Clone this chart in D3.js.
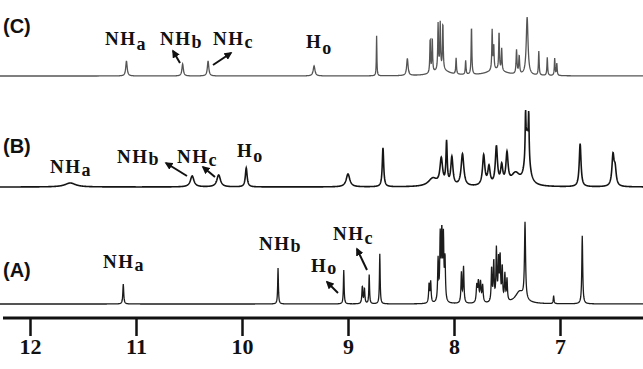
<!DOCTYPE html>
<html>
<head>
<meta charset="utf-8">
<script src="https://cdn.jsdelivr.net/npm/d3@7"></script>
<style>
body { margin: 0; background: #fff; }
</style>
</head>
<body>
<svg id="chart" width="643" height="369"></svg>
<script>
// peak lists: [ppm, height, half width (ppm)]
var peaksC = [
    [11.09, 15, 0.008], [10.56, 12, 0.008], [10.32, 15, 0.008], [9.32, 10, 0.01],
    [8.73, 40, 0.003], [8.44, 17, 0.008],
    [8.225, 34, 0.004], [8.205, 34, 0.004],
    [8.15, 46, 0.004], [8.13, 46, 0.004], [8.105, 46, 0.004], [8.12, 6, 0.08],
    [7.98, 16, 0.004], [7.89, 14, 0.004], [7.835, 48, 0.004],
    [7.64, 40, 0.004], [7.625, 24, 0.004], [7.575, 38, 0.004], [7.55, 22, 0.004], [7.6, 6, 0.1],
    [7.41, 24, 0.005], [7.385, 18, 0.005],
    [7.31, 58, 0.01],
    [7.20, 24, 0.004], [7.12, 18, 0.004], [7.05, 17, 0.004], [7.03, 12, 0.004]
];

var peaksB = [
    [11.62, 4, 0.06], [10.47, 11, 0.02], [10.22, 12, 0.02], [9.96, 19, 0.01],
    [9.00, 13, 0.02], [8.67, 39, 0.008],
    [8.2, 8, 0.05], [8.12, 26, 0.015], [8.07, 42, 0.007], [8.02, 28, 0.012],
    [7.92, 32, 0.015],
    [7.72, 30, 0.013], [7.67, 18, 0.013],
    [7.60, 38, 0.012], [7.55, 18, 0.012], [7.50, 30, 0.012],
    [7.42, 12, 0.05],
    [7.31, 50, 0.022], [7.325, 40, 0.004], [7.295, 40, 0.004],
    [6.81, 43, 0.01],
    [6.50, 30, 0.012], [6.48, 16, 0.012]
];

var peaksA = [
    [11.12, 20, 0.005], [9.66, 36, 0.004], [9.04, 34, 0.004],
    [8.865, 17, 0.005], [8.845, 15, 0.005], [8.80, 29, 0.004], [8.70, 50, 0.004],
    [8.235, 19, 0.005], [8.22, 21, 0.005],
    [8.15, 42, 0.005], [8.13, 64, 0.005], [8.115, 66, 0.005], [8.10, 62, 0.005], [8.085, 42, 0.005],
    [7.93, 30, 0.005], [7.91, 36, 0.005],
    [7.785, 17, 0.006], [7.77, 20, 0.006], [7.75, 20, 0.006], [7.73, 17, 0.006],
    [7.645, 34, 0.005], [7.625, 40, 0.005], [7.60, 52, 0.005], [7.58, 40, 0.005],
    [7.565, 44, 0.005], [7.545, 34, 0.005], [7.52, 27, 0.005], [7.50, 22, 0.005],
    [7.38, 12, 0.05], [7.33, 76, 0.006],
    [7.06, 8, 0.004], [6.79, 68, 0.005]
];

var tickValues = [12, 11, 10, 9, 8, 7];

var spectra = [
    { name: "(C)", peaks: peaksC, base: 76, nameY: 33, color: "#555", width: 1.3 },
    { name: "(B)", peaks: peaksB, base: 187, nameY: 153, color: "#151515", width: 1.6 },
    { name: "(A)", peaks: peaksA, base: 304, nameY: 277, color: "#1c1c1c", width: 1.3 }
];

// peak annotations (text start, baseline) and arrows
var notes = [
    { t: "NH", s: "a", x: 105, y: 45, dy: 5 },
    { t: "NH", s: "b", x: 160, y: 45, dy: 3 },
    { t: "NH", s: "c", x: 213, y: 45, dy: 3 },
    { t: "H", s: "o", x: 306, y: 48, dy: 6 },
    { t: "NH", s: "a", x: 50, y: 173, dy: 3 },
    { t: "NH", s: "b", x: 117, y: 163, dy: 2 },
    { t: "NH", s: "c", x: 177, y: 163, dy: 3 },
    { t: "H", s: "o", x: 237, y: 157, dy: 5 },
    { t: "NH", s: "a", x: 103, y: 268, dy: 3 },
    { t: "NH", s: "b", x: 259, y: 250, dy: 2 },
    { t: "H", s: "o", x: 311, y: 272, dy: 2 },
    { t: "NH", s: "c", x: 333, y: 240, dy: 4 }
];
var arrows = [
    [180, 63, 173, 51], [213, 65, 231, 53],
    [187, 176, 166, 163], [215, 177, 203, 167],
    [338, 293, 327, 282], [367, 270, 357, 249]
];

var svg = d3.select("#chart");
var x = d3.scaleLinear().domain([12, 7]).range([30, 560]);

var defs = svg.append("defs");
defs.append("marker")
    .attr("id", "head")
    .attr("viewBox", "0 0 10 10")
    .attr("refX", 8).attr("refY", 5)
    .attr("markerWidth", 4).attr("markerHeight", 4)
    .attr("orient", "auto")
    .append("path")
    .attr("d", "M0,0 L10,5 L0,10 z")
    .attr("fill", "#111");

var ppms = d3.range(12.3, 6.15, -0.002);

function intensity(peaks, p) {
    var s = 0;
    for (var i = 0; i < peaks.length; i++) {
        var u = (p - peaks[i][0]) / peaks[i][2];
        s += peaks[i][1] / (1 + u * u);
    }
    return s;
}

spectra.forEach(function(sp) {
    var y = d3.scaleLinear().domain([0, 100]).range([sp.base, sp.base - 100]);
    var line = d3.line()
        .x(function(p) { return x(p); })
        .y(function(p) { return y(intensity(sp.peaks, p)); });

    svg.append("path")
        .datum(ppms)
        .attr("d", line)
        .attr("fill", "none")
        .attr("stroke", sp.color)
        .attr("stroke-width", sp.width);

    svg.append("text")
        .attr("x", 3)
        .attr("y", sp.nameY)
        .style("font-family", "'Liberation Sans', Arial, sans-serif")
        .attr("font-weight", "bold")
        .attr("font-size", 20)
        .attr("fill", "#111")
        .text(sp.name);
});

notes.forEach(function(n) {
    var t = svg.append("text")
        .attr("x", n.x)
        .attr("y", n.y)
        .style("font-family", "'Liberation Serif', 'Times New Roman', serif")
        .attr("font-weight", "bold")
        .attr("fill", "#111");
    t.append("tspan").attr("font-size", 19).attr("letter-spacing", 1.5).text(n.t);
    t.append("tspan").attr("font-size", 18).attr("dy", n.dy).text(n.s);
});

svg.selectAll(".arrow")
    .data(arrows)
    .enter().append("line")
    .attr("class", "arrow")
    .attr("x1", function(d) { return d[0]; })
    .attr("y1", function(d) { return d[1]; })
    .attr("x2", function(d) { return d[2]; })
    .attr("y2", function(d) { return d[3]; })
    .attr("stroke", "#111")
    .attr("stroke-width", 2)
    .attr("marker-end", "url(#head)");

// ppm axis
var axis = d3.axisBottom(x)
    .tickValues(tickValues)
    .tickSize(18)
    .tickPadding(2)
    .tickFormat(d3.format("d"));

var g = svg.append("g")
    .attr("transform", "translate(0,318)")
    .call(axis);

g.select(".domain").remove();
g.append("line")
    .attr("x1", 3).attr("x2", 643)
    .attr("stroke", "#111")
    .attr("stroke-width", 3);
g.selectAll(".tick line")
    .attr("stroke", "#111")
    .attr("stroke-width", 2.5);
g.selectAll(".tick text")
    .style("font-family", "'Liberation Serif', 'Times New Roman', serif")
    .attr("font-weight", "bold")
    .attr("font-size", 22)
    .attr("fill", "#111");
</script>
</body>
</html>
